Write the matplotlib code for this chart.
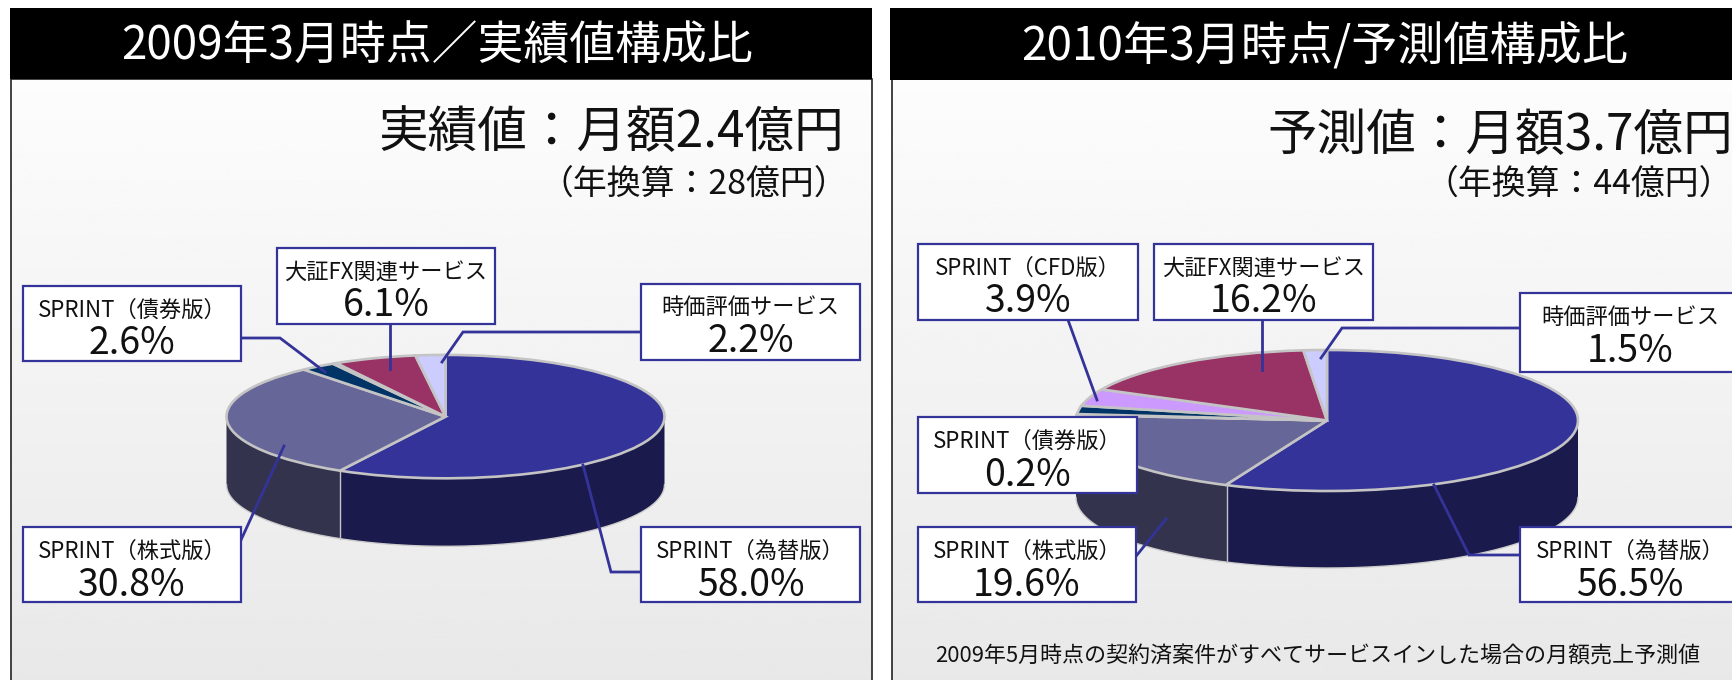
import numpy as np
import matplotlib
matplotlib.use('Agg')
import matplotlib.pyplot as plt
from matplotlib.patches import Rectangle

plt.rcParams['font.family'] = ['Noto Sans CJK JP', 'DejaVu Sans']

W, H = 1733, 680

# slice shares, clockwise from 12 o'clock
left_values = [58.0, 30.8, 2.6, 0.3, 6.1, 2.2]
left_colors = ['#333399', '#666699', '#003366', '#000000', '#993366', '#ccccff']
right_values = [56.5, 19.6, 0.2, 1.9, 3.9, 16.2, 1.5]
right_colors = ['#333399', '#666699', '#c0c0c0', '#003366', '#cc99ff', '#993366', '#ccccff']
side_colors = ['#1a1a4d', '#33334d']

left_title = '2009年3月時点／実績値構成比'
left_big = '実績値：月額2.4億円'
left_sub = '（年換算：28億円）'
right_title = '2010年3月時点/予測値構成比'
right_big = '予測値：月額3.7億円'
right_sub = '（年換算：44億円）'
footer = '2009年5月時点の契約済案件がすべてサービスインした場合の月額売上予測値'

# label, percent, box (x0, y0, x1, y1), leader points
left_boxes = [
    ('SPRINT（債券版）', '2.6%', (23, 286, 241, 361), [(241, 338), (280, 338), (325, 372)]),
    ('大証FX関連サービス', '6.1%', (277, 248, 495, 324), [(390, 324), (390, 369)]),
    ('時価評価サービス', '2.2%', (641, 284, 860, 360), [(641, 332), (463, 332), (442, 362)]),
    ('SPRINT（株式版）', '30.8%', (23, 527, 241, 602), [(241, 540), (284, 446)]),
    ('SPRINT（為替版）', '58.0%', (641, 527, 860, 602), [(641, 572), (611, 572), (583, 465)]),
]
right_boxes = [
    ('SPRINT（CFD版）', '3.9%', (918, 244, 1138, 320), [(1068, 320), (1097, 400)]),
    ('大証FX関連サービス', '16.2%', (1154, 244, 1373, 320), [(1262, 320), (1262, 370)]),
    ('時価評価サービス', '1.5%', (1520, 293, 1740, 372), [(1520, 328), (1342, 328), (1321, 358)]),
    ('SPRINT（債券版）', '0.2%', (918, 417, 1137, 493), []),
    ('SPRINT（株式版）', '19.6%', (918, 527, 1136, 602), [(1137, 555), (1166, 519)]),
    ('SPRINT（為替版）', '56.5%', (1520, 527, 1740, 602), [(1520, 555), (1469, 555), (1434, 485)]),
]

fig = plt.figure(figsize=(W / 100, H / 100), dpi=100, facecolor='white')


def px_axes(x0, y0, x1, y1, zorder):
    # axes placed by pixel box, y measured from the top of the picture
    ax = fig.add_axes([x0 / W, 1 - y1 / H, (x1 - x0) / W, (y1 - y0) / H], zorder=zorder)
    ax.axis('off')
    return ax


def draw_pie(cx, cy, rx, ry, depth, values, colors):
    ax = px_axes(cx - rx - 4, cy - ry - 4, cx + rx + 4, cy + ry + depth + 4, 1)
    ax.pie(values, colors=colors, startangle=90, counterclock=False, radius=1, center=(0, 0),
           wedgeprops={'edgecolor': '#c4c4c4', 'linewidth': 1.9, 'zorder': 3})
    ax.set_aspect('auto')
    ax.set_xlim(-(rx + 4) / rx, (rx + 4) / rx)
    ax.set_ylim(-(ry + depth + 4) / ry, (ry + 4) / ry)
    # side wall: first two slices face the viewer
    d = depth / ry
    split = np.deg2rad(values[0] * 3.6)
    end = np.deg2rad((values[0] + values[1]) * 3.6)
    for a0, a1, c in [(np.pi / 2, split, side_colors[0]), (split, end, side_colors[1])]:
        a1 = min(a1, 1.5 * np.pi)
        t = np.linspace(a0, a1, 80)
        xs = np.sin(t)
        ys = np.cos(t)
        ax.fill(np.r_[xs, xs[::-1]], np.r_[ys, ys[::-1] - d], color=c, lw=0, zorder=1)
    t = np.linspace(np.pi / 2, 1.5 * np.pi, 200)
    ax.plot(np.sin(t), np.cos(t) - d, color='#cccccc', lw=1.0, zorder=2)
    ax.plot([np.sin(split)] * 2, [np.cos(split), np.cos(split) - d], color='#c4c4c4', lw=1.0, zorder=2)


bg = px_axes(0, 0, W, H, 0)
gradient = np.linspace(0.99, 0.91, 256).reshape(-1, 1)
for x0, x1 in [(11, 872), (892, W + 2)]:
    bg.imshow(gradient, extent=(x0, x1, H, 79), cmap='gray', vmin=0, vmax=1, aspect='auto')
    bg.add_patch(Rectangle((x0, 79), x1 - x0, H, fill=False, edgecolor='#222222', lw=1.2))
bg.set_xlim(0, W)
bg.set_ylim(H, 0)
bg.add_patch(Rectangle((10, 8), 862, 71, color='black', lw=0))
bg.add_patch(Rectangle((890, 8), W - 890, 72, color='black', lw=0))

draw_pie(445.5, 416.6, 219, 61.7, 68, left_values, left_colors)
draw_pie(1327, 420.5, 251, 70.5, 77, right_values, right_colors)

top = px_axes(0, 0, W, H, 5)
top.set_xlim(0, W)
top.set_ylim(H, 0)

top.text(437.5, 47, left_title, color='white', fontsize=33, ha='center', va='center')
top.text(1325, 47, right_title, color='white', fontsize=33.2, ha='center', va='center')
top.text(844, 133, left_big, fontsize=35.7, ha='right', va='center', color='#111111')
top.text(1733, 136, right_big, fontsize=35.7, ha='right', va='center', color='#111111')
top.text(848, 184, left_sub, fontsize=24.4, ha='right', va='center', color='#111111')
top.text(1733, 184, right_sub, fontsize=24.4, ha='right', va='center', color='#111111')
top.text(1318, 657, footer, fontsize=15.8, ha='center', va='center', color='#111111')

for label, pct, (x0, y0, x1, y1), leader in left_boxes + right_boxes:
    if leader:
        top.plot([p[0] for p in leader], [p[1] for p in leader], color='#333399', lw=2,
                 solid_joinstyle='miter', zorder=2)
    top.add_patch(Rectangle((x0, y0), x1 - x0, y1 - y0, facecolor='white', edgecolor='#333399',
                            lw=1.6, zorder=3))
    xc = (x0 + x1) / 2
    top.text(xc, y0 + 24, label, fontsize=16, ha='center', va='center', color='#111111', zorder=4)
    top.text(xc, y0 + 58, pct, fontsize=27, ha='center', va='center', color='#111111', zorder=4)

fig.savefig('out.png', dpi=100)
